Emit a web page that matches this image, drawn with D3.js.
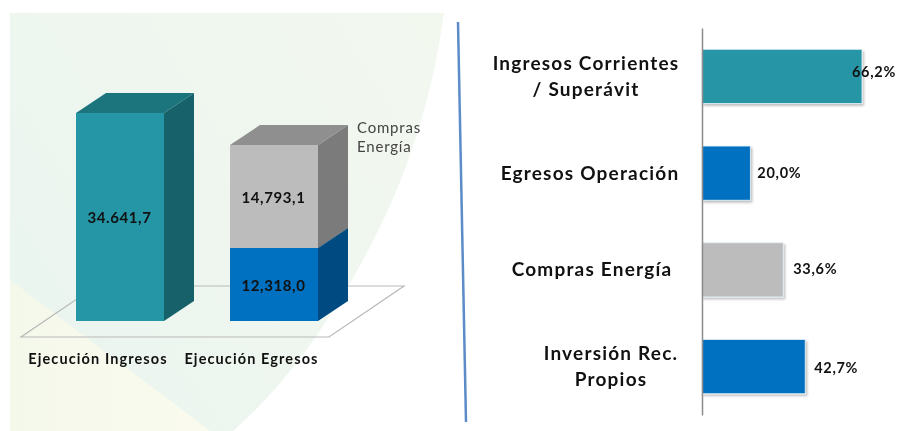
<!DOCTYPE html>
<html>
<head>
<meta charset="utf-8">
<script src="https://cdn.jsdelivr.net/npm/d3@7"></script>
<style>
  html, body { margin: 0; padding: 0; background: #fff; }
  svg { display: block; }
  text { font-family: Lato, "Open Sans", sans-serif; fill: #111; }
  .blurry { filter: blur(0.45px); }
</style>
</head>
<body>
<svg id="chart" width="899" height="431"></svg>
<script>
// Left chart: 3D columns
const columnCategories = ['Ejecución Ingresos', 'Ejecución Egresos'];
const ingresosValues = [34641.7];
const egresosValues = [12318.0, 14793.1];
const columnLabels = ['34.641,7', '12,318,0', '14,793,1'];
const columnNote = ['Compras', 'Energía'];

// Right chart: horizontal bars
const barCategories = [
  ['Ingresos Corrientes', '/ Superávit'],
  ['Egresos Operación'],
  ['Compras Energía'],
  ['Inversión Rec.', 'Propios']
];
const barValues = [66.2, 20.0, 33.6, 42.7];
const barLabels = ['66,2%', '20,0%', '33,6%', '42,7%'];

const TEAL = { front: '#2596a6', top: '#1c747d', side: '#17626a' };
const GREY = { front: '#bcbcbc', top: '#8f8f8f', side: '#7b7b7b' };
const BLUE = { front: '#0070c0', top: '#00508c', side: '#004a82' };

const svg = d3.select('#chart');

// Background panel
const defs = svg.append('defs');
const panelGrad = defs.append('linearGradient').attr('id', 'panelGrad')
  .attr('x1', 0).attr('y1', 0.6).attr('x2', 1).attr('y2', 0);
panelGrad.append('stop').attr('offset', 0).attr('stop-color', '#ebf5ef');
panelGrad.append('stop').attr('offset', 1).attr('stop-color', '#f3f8ef');
const wedgeGrad = defs.append('linearGradient').attr('id', 'wedgeGrad')
  .attr('x1', 0).attr('y1', 0).attr('x2', 1).attr('y2', 0);
wedgeGrad.append('stop').attr('offset', 0).attr('stop-color', '#f4f8ea');
wedgeGrad.append('stop').attr('offset', 1).attr('stop-color', '#fafbee');

svg.append('path')
  .attr('d', 'M10,13 L444,13 C428,130 390,215 350,283 C320,335 280,390 233,431 L10,431 Z')
  .attr('fill', 'url(#panelGrad)');
svg.append('path')
  .attr('d', 'M10,280 L210,431 L10,431 Z')
  .attr('fill', 'url(#wedgeGrad)');

// Floor of the 3D chart
svg.append('path')
  .attr('d', 'M21,337 L329,337 L404,286 L96,286 Z')
  .attr('fill', 'none')
  .attr('stroke', '#b9b9b9')
  .attr('stroke-width', 1.2);

// Column scales. The picture is not drawn to one constant scale, so the scale
// goes through the stack breaks read from it.
const colX = d3.scaleBand().domain(columnCategories).range([76, 318]).paddingInner(0.4286);
const colY = d3.scaleLinear()
  .domain([0, egresosValues[0], egresosValues[0] + egresosValues[1], ingresosValues[0]])
  .range([321, 248, 145, 113]);

const columnSegments = [
  { cat: columnCategories[0], y0: 0, y1: ingresosValues[0], c: TEAL, label: columnLabels[0] },
  { cat: columnCategories[1], y0: 0, y1: egresosValues[0], c: BLUE, label: columnLabels[1] },
  { cat: columnCategories[1], y0: egresosValues[0], y1: egresosValues[0] + egresosValues[1], c: GREY, label: columnLabels[2] }
];

const depthX = 30, depthY = 20;
const segX = d => colX(d.cat);
const colW = colX.bandwidth();

const seg = svg.selectAll('.segment').data(columnSegments).enter().append('g').attr('class', 'segment');

seg.append('path') // side
  .attr('fill', d => d.c.side)
  .attr('d', d => {
    const x = segX(d) + colW, a = colY(d.y0), b = colY(d.y1);
    return `M${x},${a} L${x + depthX},${a - depthY} L${x + depthX},${b - depthY} L${x},${b} Z`;
  });
seg.append('path') // top
  .attr('fill', d => d.c.top)
  .attr('d', d => {
    const x = segX(d), b = colY(d.y1);
    return `M${x},${b} L${x + depthX},${b - depthY} L${x + colW + depthX},${b - depthY} L${x + colW},${b} Z`;
  });
seg.append('rect') // front
  .attr('fill', d => d.c.front)
  .attr('x', segX)
  .attr('y', d => colY(d.y1))
  .attr('width', colW)
  .attr('height', d => colY(d.y0) - colY(d.y1));

seg.append('text')
  .attr('class', 'blurry')
  .attr('x', d => segX(d) + colW / 2 - 0.5)
  .attr('y', d => (colY(d.y0) + colY(d.y1)) / 2 + 6)
  .attr('text-anchor', 'middle')
  .attr('font-size', 15)
  .attr('font-weight', 700)
  .attr('letter-spacing', 0.6)
  .text(d => d.label);

svg.selectAll('.col-cat').data(columnCategories).enter().append('text')
  .attr('class', 'col-cat blurry')
  .attr('x', (d, i) => [98, 251.5][i])
  .attr('y', 364)
  .attr('text-anchor', 'middle')
  .attr('font-size', 14.5)
  .attr('font-weight', 700)
  .attr('letter-spacing', 1.1)
  .text(d => d);

svg.selectAll('.col-note').data(columnNote).enter().append('text')
  .attr('class', 'col-note blurry')
  .attr('x', 357)
  .attr('y', (d, i) => 133 + i * 19)
  .attr('font-size', 15)
  .attr('letter-spacing', 0.8)
  .style('fill', '#444')
  .text(d => d);

// Divider
svg.append('line')
  .attr('x1', 458).attr('y1', 22).attr('x2', 466).attr('y2', 422)
  .attr('stroke', '#5b8cc8').attr('stroke-width', 2.5);

// Bar chart
const axisX = 702;
const barX = d3.scaleLinear().domain([0, 66.2]).range([axisX, 862]);
const barY = d3.scaleBand().domain(d3.range(barValues.length)).range([28, 415]).paddingInner(0.44).paddingOuter(0.22);
const barColors = [TEAL.front, BLUE.front, GREY.front, BLUE.front];
const labelCenters = [586, 590, 592, 611];
const valueDx = [-10, 7, 10, 9];
const valueDy = [-4, 0, -1, 1];

defs.append('filter').attr('id', 'barShadow')
  .attr('x', '-5%').attr('y', '-5%').attr('width', '115%').attr('height', '115%')
  .append('feDropShadow')
  .attr('dx', 1.5).attr('dy', 2).attr('stdDeviation', 1)
  .attr('flood-color', '#000').attr('flood-opacity', 0.25);

svg.selectAll('.bar').data(barValues).enter().append('rect')
  .attr('class', 'bar')
  .attr('x', axisX)
  .attr('y', (d, i) => barY(i))
  .attr('width', d => barX(d) - axisX)
  .attr('height', barY.bandwidth())
  .attr('fill', (d, i) => barColors[i])
  .attr('stroke', '#e4f0f6')
  .attr('stroke-width', 0.8)
  .attr('filter', 'url(#barShadow)');

const axis = d3.axisLeft(barY).tickSize(0).tickFormat('');
const axisG = svg.append('g').attr('transform', `translate(${axisX},0)`).call(axis);
axisG.select('.domain').attr('stroke', '#8c8c8c').attr('stroke-width', 1.5);

svg.selectAll('.bar-value').data(barLabels).enter().append('text')
  .attr('class', 'bar-value blurry')
  .attr('x', (d, i) => barX(barValues[i]) + valueDx[i])
  .attr('y', (d, i) => barY(i) + barY.bandwidth() / 2 + 5 + valueDy[i])
  .attr('font-size', 14.5)
  .attr('font-weight', 700)
  .attr('letter-spacing', 0.7)
  .text(d => d);

barCategories.forEach((lines, i) => {
  const cy = barY(i) + barY.bandwidth() / 2;
  const lineGap = 26;
  lines.forEach((line, j) => {
    svg.append('text')
      .attr('class', 'bar-cat blurry')
      .attr('x', labelCenters[i])
      .attr('y', cy + 6.5 + (j - (lines.length - 1) / 2) * lineGap)
      .attr('text-anchor', 'middle')
      .attr('font-size', 19)
      .attr('font-weight', 700)
      .attr('letter-spacing', 1.2)
      .text(line);
  });
});
</script>
</body>
</html>
